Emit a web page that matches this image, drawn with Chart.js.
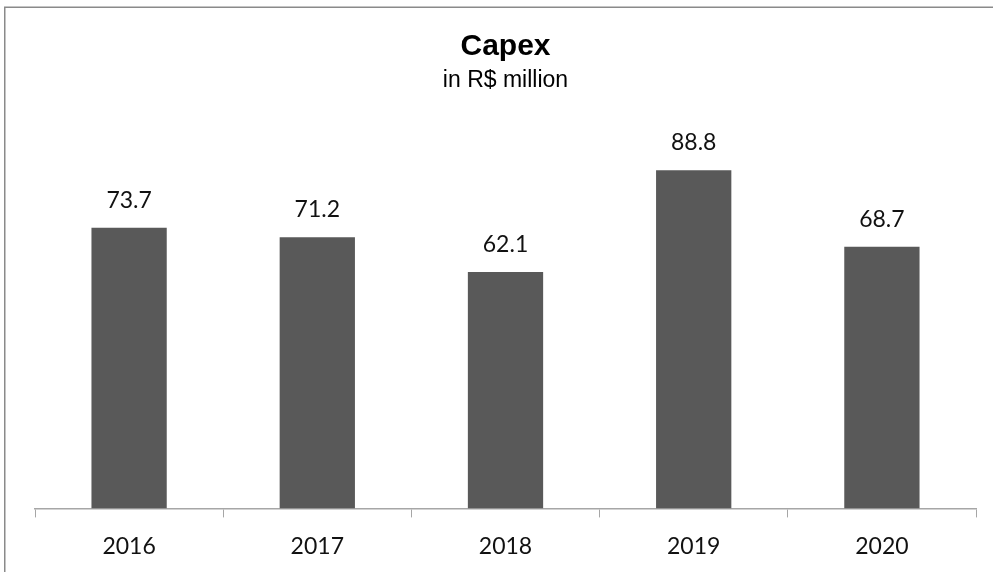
<!DOCTYPE html>
<html>
<head>
<meta charset="utf-8">
<title>Capex</title>
<script src="https://cdn.jsdelivr.net/npm/chart.js@4/dist/chart.umd.min.js"></script>
<style>
  html, body { margin: 0; padding: 0; background: #fff; }
  #capexChart { display: block; }
</style>
</head>
<body>
<canvas id="capexChart" width="993" height="572"></canvas>
<script>
const years = ['2016', '2017', '2018', '2019', '2020'];
const capex = [73.7, 71.2, 62.1, 88.8, 68.7];
const titleText = 'Capex';
const subtitleText = 'in R$ million';

// thin grey frame round the whole chart
const framePlugin = {
  id: 'frame',
  beforeDraw(chart) {
    const ctx = chart.ctx;
    ctx.save();
    ctx.strokeStyle = '#8a8a8a';
    ctx.lineWidth = 1.5;
    ctx.strokeRect(4.75, 7.25, chart.width + 20, chart.height + 20);
    ctx.restore();
  }
};

// value written above each bar
const valueLabels = {
  id: 'valueLabels',
  afterDatasetsDraw(chart) {
    const ctx = chart.ctx;
    const meta = chart.getDatasetMeta(0);
    ctx.save();
    ctx.font = '23px Lato';
    ctx.fillStyle = '#111';
    ctx.textAlign = 'center';
    ctx.textBaseline = 'alphabetic';
    meta.data.forEach((bar, i) => {
      ctx.fillText(capex[i].toFixed(1), bar.x, bar.y - 20);
    });
    ctx.restore();
  }
};

const ctx = document.getElementById('capexChart').getContext('2d');
new Chart(ctx, {
  type: 'bar',
  data: {
    labels: years,
    datasets: [{
      data: capex,
      backgroundColor: '#595959',
      borderWidth: 0,
      barPercentage: 0.4,
      categoryPercentage: 1.0
    }]
  },
  options: {
    responsive: false,
    animation: false,
    layout: { padding: { top: 29, left: 35, right: 17, bottom: -3 } },
    plugins: {
      legend: { display: false },
      tooltip: { enabled: false },
      title: {
        display: true,
        text: titleText,
        color: '#000',
        font: { family: 'Liberation Sans', size: 30, weight: 'bold', lineHeight: 1.2 },
        padding: { top: 0, bottom: 2 }
      },
      subtitle: {
        display: true,
        text: subtitleText,
        color: '#000',
        font: { family: 'Liberation Sans', size: 23, lineHeight: 1.2 },
        padding: { top: 0, bottom: 33 }
      }
    },
    scales: {
      x: {
        offset: true,
        grid: {
          offset: true,
          drawOnChartArea: false,
          drawTicks: true,
          tickLength: 9,
          color: '#a6a6a6'
        },
        border: { display: true, color: '#a6a6a6', width: 1.5 },
        ticks: {
          color: '#111',
          padding: 15,
          font: { family: 'Lato', size: 23, lineHeight: 1.2 }
        }
      },
      y: {
        display: false,
        min: 0,
        max: 100
      }
    }
  },
  plugins: [framePlugin, valueLabels]
});
</script>
</body>
</html>
